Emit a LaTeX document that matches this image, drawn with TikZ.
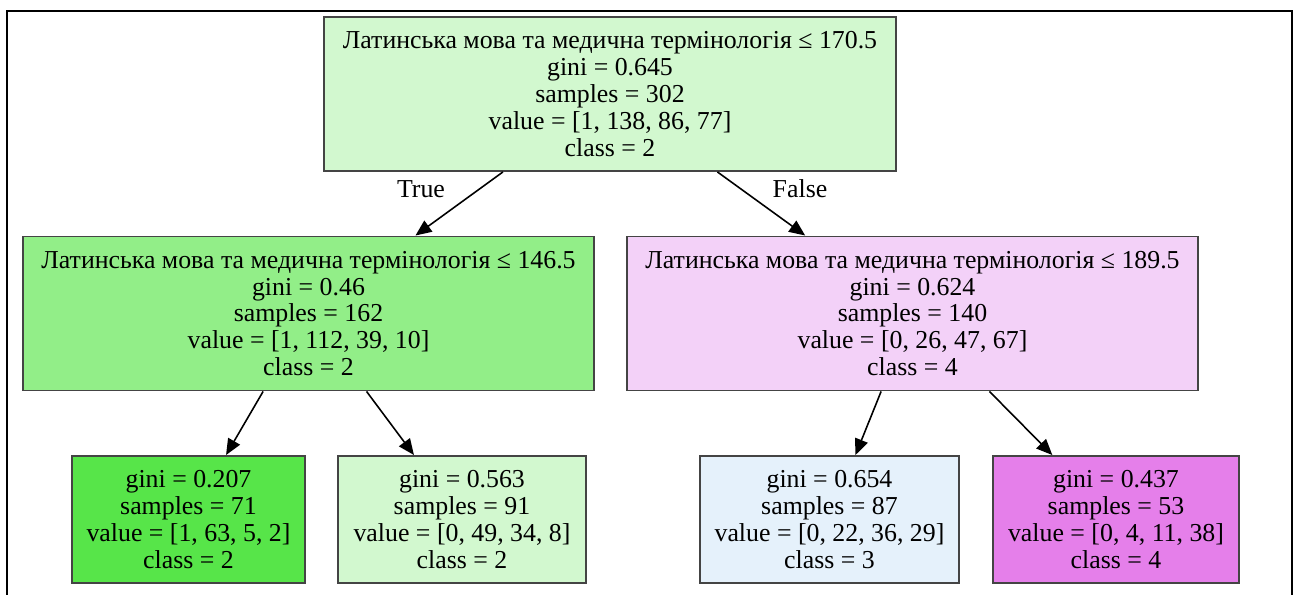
\documentclass[tikz,border=0pt]{standalone}
\usepackage{fontspec}
\setmainfont{Liberation Serif}
\usetikzlibrary{arrows.meta}
\definecolor{rootg}{HTML}{D2F8CF}
\definecolor{midg}{HTML}{92EE88}
\definecolor{leafg}{HTML}{57E549}
\definecolor{midp}{HTML}{F3D1F8}
\definecolor{leafb}{HTML}{E5F1FB}
\definecolor{leafp}{HTML}{E57FEA}
\definecolor{edgegr}{HTML}{444444}
\tikzset{
  box/.style  ={draw=edgegr, line width=1.1pt, align=center, inner sep=0pt,
                font=\fontsize{14.7pt}{15.3pt}\selectfont},
  splt/.style ={box, minimum width=11.43cm, minimum height=3.08cm},
  leaf/.style ={box, minimum height=2.54cm},
  arr/.style  ={-{Triangle[length=3.2mm, width=2.7mm]}, line width=0.9pt, draw=black},
  lab/.style  ={font=\fontsize{14.7pt}{15.3pt}\selectfont, inner sep=0pt},
}
\begin{document}
\begin{tikzpicture}
  \useasboundingbox (0,0) rectangle (26,11.9);

  % ---- frame (open at the bottom) ----
  \draw[line width=1.3pt] (0.14,0) -- (0.14,11.68) -- (25.84,11.68) -- (25.84,0);

  % ---- root ----
  \node[splt, fill=rootg] (root) at (12.20,10.02)
      {Латинська мова та медична термінологія ≤ 170.5\\gini = 0.645\\samples = 302\\value = [1, 138, 86, 77]\\class = 2};

  % ---- second level ----
  \node[splt, fill=midg] (lmid) at (6.17,5.63)
      {Латинська мова та медична термінологія ≤ 146.5\\gini = 0.46\\samples = 162\\value = [1, 112, 39, 10]\\class = 2};
  \node[splt, fill=midp] (rmid) at (18.25,5.63)
      {Латинська мова та медична термінологія ≤ 189.5\\gini = 0.624\\samples = 140\\value = [0, 26, 47, 67]\\class = 4};

  % ---- leaves ----
  \node[leaf, fill=leafg, minimum width=4.66cm] (ll) at (3.77,1.51)
      {gini = 0.207\\samples = 71\\value = [1, 63, 5, 2]\\class = 2};
  \node[leaf, fill=rootg, minimum width=4.96cm] (lr) at (9.24,1.51)
      {gini = 0.563\\samples = 91\\value = [0, 49, 34, 8]\\class = 2};
  \node[leaf, fill=leafb, minimum width=5.18cm] (rl) at (16.59,1.51)
      {gini = 0.654\\samples = 87\\value = [0, 22, 36, 29]\\class = 3};
  \node[leaf, fill=leafp, minimum width=4.92cm] (rr) at (22.32,1.51)
      {gini = 0.437\\samples = 53\\value = [0, 4, 11, 38]\\class = 4};

  % ---- edges ----
  \draw[arr] (root) -- (lmid);
  \draw[arr] (root) -- (rmid);
  \draw[arr] (lmid) -- (ll);
  \draw[arr] (lmid) -- (lr);
  \draw[arr] (rmid) -- (rl);
  \draw[arr] (rmid) -- (rr);
  \node[lab] (ttrue)  at (8.42,8.12) {True};
  \node[lab] (tfalse) at (16.00,8.12) {False};

\end{tikzpicture}
\end{document}
